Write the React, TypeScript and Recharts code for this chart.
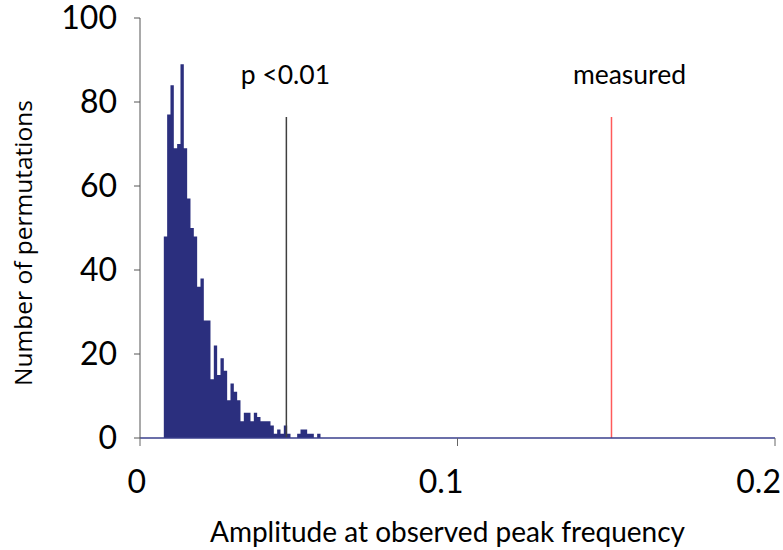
import React from 'react';
import { ComposedChart, Area, XAxis, YAxis, ReferenceLine } from 'recharts';

// Histogram of permutation amplitudes
const binStart = 0.0075;
const binWidth = 0.00105;
const counts = [
  48, 77, 84, 69, 70, 89, 69, 57, 50, 48,
  36, 38, 28, 28, 14, 22, 15, 19, 16, 9,
  13, 11, 9, 4, 6, 6, 4, 6, 5, 4,
  4, 4, 3, 1, 2, 1, 3, 1, 0, 0,
  1, 2, 2, 1, 1, 0, 1,
];
const xTicks = [0, 0.1, 0.2];
const yTicks = [0, 20, 40, 60, 80, 100];
const thresholdX = 0.0461; // p < 0.01
const measuredX = 0.1485;
const markerTop = 76.4;

const histData = [
  ...counts.map((c, i) => ({ x: binStart + i * binWidth, count: c })),
  { x: binStart + counts.length * binWidth, count: 0 },
];

const NAVY = '#2B2F7E';
const FONT = 'Lato, "Open Sans", sans-serif';

const XTick = (props: any) => {
  const { x, y, payload } = props;
  return (
    <text x={x + 6} y={y + 45} textAnchor="end" fontFamily={FONT} fontSize={32} fill="#000">
      {String(payload.value)}
    </text>
  );
};

const makeLineLabel = (text: string, dx: number) => (p: any) => {
  const vb = p.viewBox || {};
  return (
    <text x={(vb.x ?? 0) + dx} y={(vb.y ?? 0) - 33} textAnchor="middle" fontFamily={FONT} fontSize={26.5} fill="#000">
      {text}
    </text>
  );
};

const YTitle = (p: any) => {
  const vb = p.viewBox || {};
  const cy = (vb.y ?? 0) + (vb.height ?? 0) / 2 + 15;
  const bx = 32;
  return (
    <text x={bx} y={cy} transform={`rotate(-90, ${bx}, ${cy})`} textAnchor="middle" fontFamily='"Open Sans", sans-serif' fontSize={24.5} fill="#000">
      Number of permutations
    </text>
  );
};

const XTitle = (p: any) => {
  const vb = p.viewBox || {};
  const cx = (vb.x ?? 0) + (vb.width ?? 0) / 2 - 10;
  return (
    <text x={cx} y={(vb.y ?? 0) + 104} textAnchor="middle" fontFamily={FONT} fontSize={28} fill="#000">
      Amplitude at observed peak frequency
    </text>
  );
};

export default function App() {
  return (
    <div style={{ position: 'absolute', left: 0, top: 0, width: 783, height: 550, background: '#fff' }}>
      <ComposedChart width={783} height={550} data={histData} margin={{ top: 18, right: 8, bottom: 0, left: 0 }}>
        <XAxis
          type="number"
          dataKey="x"
          domain={[0, 0.2]}
          ticks={xTicks}
          allowDataOverflow
          height={112}
          tickSize={8}
          tickMargin={2}
          axisLine={{ stroke: '#3A3F8C', strokeWidth: 1.5 }}
          tickLine={{ stroke: '#666' }}
          tick={<XTick />}
          label={XTitle}
          interval={0}
        />
        <YAxis
          type="number"
          domain={[0, 100]}
          ticks={yTicks}
          width={140}
          tickSize={6}
          tickMargin={17}
          axisLine={{ stroke: '#555' }}
          tickLine={{ stroke: '#555' }}
          tick={{ fill: '#000', fontSize: 32, fontFamily: FONT }}
          label={YTitle}
          interval={0}
        />
        <Area
          type="stepAfter"
          dataKey="count"
          stroke="none"
          fill={NAVY}
          fillOpacity={1}
          baseValue={0}
          isAnimationActive={false}
          dot={false}
          activeDot={false}
        />
        <ReferenceLine
          segment={[{ x: thresholdX, y: 0 }, { x: thresholdX, y: markerTop }]}
          stroke="#404040"
          strokeWidth={1.5}
          label={makeLineLabel('p <0.01', -1)}
        />
        <ReferenceLine
          segment={[{ x: measuredX, y: 0 }, { x: measuredX, y: markerTop }]}
          stroke="#FF5A5A"
          strokeWidth={1.5}
          label={makeLineLabel('measured', 18)}
        />
      </ComposedChart>
    </div>
  );
}
